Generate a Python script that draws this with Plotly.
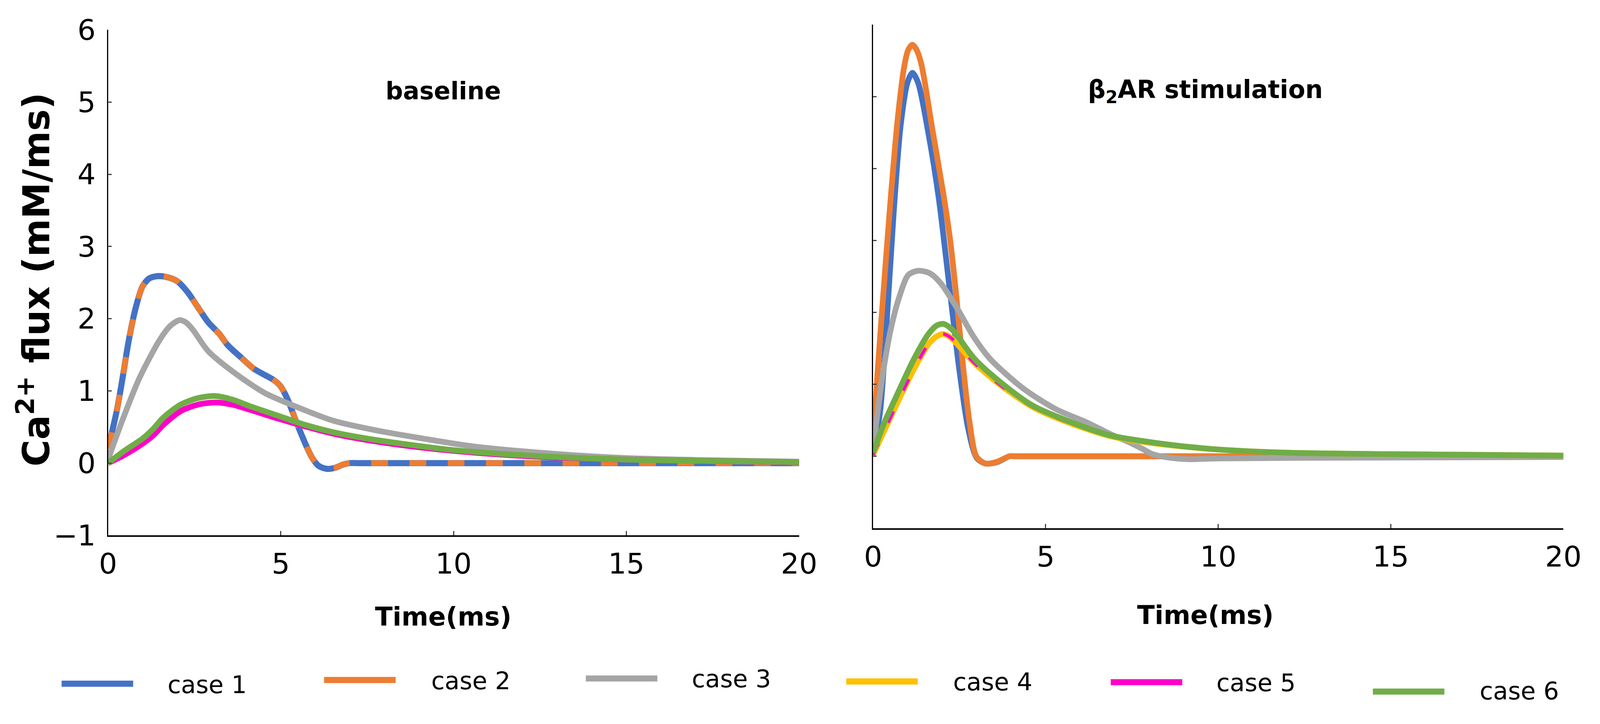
import plotly.graph_objects as go

# reference picture size (screen pixels); the page is sized to the viewport,
# F converts screen pixels to css pixels for fonts and strokes
W, H = 4572, 1853
F = 1 / 1.09

case_names = ['case 1', 'case 2', 'case 3', 'case 4', 'case 5', 'case 6']
case_colors = ['#4472C4', '#ED7D31', '#A5A5A5', '#FFC000', '#FF00CC', '#70AD47']

# ---- baseline panel ----
t_b12 = [0, 0.25, 0.4, 0.6, 0.8, 1.0, 1.2, 1.45, 1.75, 2.0, 2.3, 2.64, 2.9, 3.22, 3.47, 3.88,
         4.21, 4.54, 4.8, 5.0, 5.2, 5.45, 5.7, 5.9, 6.1, 6.35, 6.6, 6.8, 7.0, 7.3, 8, 10, 15, 20]
v_b12 = [0.2, 0.72, 1.12, 1.7, 2.15, 2.45, 2.56, 2.59, 2.57, 2.52, 2.37, 2.13, 1.95, 1.79, 1.63, 1.45,
         1.31, 1.22, 1.15, 1.06, 0.88, 0.57, 0.28, 0.08, -0.04, -0.08, -0.06, -0.02, 0, 0, 0, 0, 0, 0]

t_b3 = [0, 0.42, 0.91, 1.5, 1.8, 2.07, 2.25, 2.45, 2.9, 3.63, 4.54, 5.3, 6.5, 7.8, 9, 10.6, 12.9, 15, 17.5, 20]
v_b3 = [0.05, 0.6, 1.18, 1.71, 1.9, 1.98, 1.95, 1.85, 1.55, 1.26, 0.97, 0.81, 0.59, 0.45, 0.35, 0.23, 0.13, 0.07, 0.04, 0.02]

t_b456 = [0, 0.5, 1.0, 1.3, 1.6, 2.1, 2.6, 3.1, 3.6, 4.1, 4.9, 5.7, 6.5, 7.5, 8.5, 10, 12, 15, 17.5, 20]
v_b45 = [0.0, 0.12, 0.27, 0.38, 0.53, 0.72, 0.81, 0.84, 0.81, 0.74, 0.62, 0.51, 0.41, 0.32, 0.25, 0.17, 0.10, 0.05, 0.03, 0.01]
v_b6 = [0.0, 0.18, 0.34, 0.47, 0.63, 0.81, 0.9, 0.93, 0.88, 0.79, 0.66, 0.53, 0.43, 0.34, 0.27, 0.18, 0.11, 0.05, 0.03, 0.015]

# ---- beta2AR stimulation panel ----
t_s1 = [0, 0.2, 0.4, 0.6, 0.8, 1.0, 1.14, 1.3, 1.6, 1.9, 2.25, 2.5, 2.75, 3.0, 3.25, 3.6, 3.95,
        4.1, 4.5, 6, 10, 15, 20]
v_s1 = [0.1, 0.6, 1.9, 3.4, 4.6, 5.2, 5.33, 5.2, 4.5, 3.6, 2.2, 1.2, 0.4, -0.02, -0.1, -0.08, 0,
        0, 0, 0, 0, 0, 0]

t_s2 = [0, 0.13, 0.32, 0.52, 0.71, 0.9, 1.02, 1.14, 1.26, 1.4, 1.72, 2.04, 2.23, 2.42, 2.61, 2.8,
        2.99, 3.25, 3.57, 3.95, 4.1, 4.5, 6, 10, 15, 20]
v_s2 = [0.15, 1.16, 2.40, 3.64, 4.67, 5.41, 5.65, 5.72, 5.65, 5.45, 4.54, 3.64, 3.02, 2.19, 1.24, 0.46,
        0.0, -0.10, -0.08, 0, 0, 0, 0, 0, 0, 0]

t_s3 = [0, 0.26, 0.52, 0.77, 1.02, 1.31, 1.66, 1.97, 2.42, 2.93, 3.38, 4.33, 5.28, 6.24, 6.87, 7.4,
        7.82, 8.1, 8.6, 9.1, 10, 13, 20]
v_s3 = [0.1, 1.07, 1.78, 2.23, 2.52, 2.58, 2.54, 2.40, 2.07, 1.65, 1.36, 0.95, 0.66, 0.46, 0.31, 0.2,
        0.1, 0.03, -0.02, -0.04, -0.03, -0.02, -0.01]

t_s456 = [0, 0.32, 0.71, 1.15, 1.59, 1.85, 2.04, 2.25, 2.42, 2.93, 3.69, 4.64, 5.6, 6.87, 8.14, 9.85, 12, 15, 20]
v_s45 = [0.02, 0.35, 0.75, 1.18, 1.55, 1.67, 1.70, 1.65, 1.57, 1.30, 0.99, 0.68, 0.48, 0.28, 0.18, 0.10, 0.05, 0.03, 0.01]
v_s6 = [0.05, 0.46, 0.87, 1.32, 1.69, 1.82, 1.84, 1.78, 1.69, 1.36, 1.03, 0.70, 0.50, 0.29, 0.19, 0.10, 0.05, 0.03, 0.01]

x_ticks = [0, 5, 10, 15, 20]
y_ticks = [-1, 0, 1, 2, 3, 4, 5, 6]

FONT = 'DejaVu Sans'


def px_x(p):
    return p / W


def px_y(p):
    return 1 - p / H


def fs(p):
    return p * F


fig = go.Figure()


def add_line(t, v, i, xa, ya, width=16, dash='solid'):
    fig.add_trace(go.Scatter(
        x=t, y=v, mode='lines', name=case_names[i],
        line=dict(color=case_colors[i], width=fs(width), dash=dash, shape='spline', smoothing=0.8),
        xaxis=xa, yaxis=ya, showlegend=False, hoverinfo='skip'
    ))


# baseline
add_line(t_b12, v_b12, 0, 'x', 'y', 17)
add_line(t_b12, v_b12, 1, 'x', 'y', 16, '%dpx,%dpx' % (fs(47), fs(60)))
add_line(t_b3, v_b3, 2, 'x', 'y')
add_line(t_b456, v_b45, 3, 'x', 'y')
add_line(t_b456, v_b45, 4, 'x', 'y')
add_line(t_b456, v_b6, 5, 'x', 'y')

# beta2AR stimulation
add_line(t_s1, v_s1, 0, 'x2', 'y2')
add_line(t_s2, v_s2, 1, 'x2', 'y2')
add_line(t_s3, v_s3, 2, 'x2', 'y2')
add_line(t_s456, v_s45, 3, 'x2', 'y2', 16)
add_line(t_s456, v_s45, 4, 'x2', 'y2', 9, '%dpx,%dpx' % (fs(35), fs(65)))
add_line(t_s456, v_s6, 5, 'x2', 'y2')

xaxis = dict(
    range=[0, 20.0005], tickvals=x_ticks, ticks='inside', ticklen=fs(12), tickwidth=fs(3),
    showline=True, linewidth=fs(4), linecolor='black', showgrid=False, zeroline=False,
    tickfont=dict(family=FONT, size=fs(80), color='black'), ticklabelstandoff=6,
    ticklabeloverflow='allow',
)
yaxis = dict(
    range=[-1, 6.0005], tickvals=y_ticks, ticks='inside', ticklen=fs(10), tickwidth=fs(3),
    showline=True, linewidth=fs(3), linecolor='black', showgrid=False, zeroline=False,
    tickfont=dict(family=FONT, size=fs(80), color='black'), ticklabelstandoff=14,
    ticklabeloverflow='allow',
)

fig.update_layout(
    autosize=True,
    margin=dict(l=0, r=0, t=0, b=0),
    paper_bgcolor='white', plot_bgcolor='white',
    showlegend=False,
    xaxis=dict(xaxis, domain=[px_x(288), px_x(2297)], anchor='y'),
    yaxis=dict(yaxis, domain=[px_y(1392), px_y(36)], anchor='x'),
    xaxis2=dict(xaxis, domain=[px_x(2512), px_x(4519)], anchor='y2'),
    yaxis2=dict(yaxis, domain=[px_y(1373), px_y(22)], anchor='x2', showticklabels=False),
)

annotations = [
    dict(text='<b>baseline</b>', x=px_x(1263), y=px_y(200), size=68),
    dict(text='<b>β<sub>2</sub>AR stimulation</b>', x=px_x(3478), y=px_y(200), size=69),
    dict(text='<b>Time(ms)</b>', x=px_x(1263), y=px_y(1610), size=72),
    dict(text='<b>Time(ms)</b>', x=px_x(3478), y=px_y(1606), size=72),
]
for a in annotations:
    fig.add_annotation(text=a['text'], x=a['x'], y=a['y'], xref='paper', yref='paper',
                       showarrow=False, xanchor='center', yanchor='middle',
                       font=dict(family=FONT, size=fs(a['size']), color='black'))

fig.add_annotation(text='<b>Ca<sup>2+</sup> flux (mM/ms)</b>', textangle=-90,
                   x=px_x(72), y=px_y(706), xref='paper', yref='paper', showarrow=False,
                   xanchor='center', yanchor='middle',
                   font=dict(family=FONT, size=fs(102), color='black'))

# legend drawn by hand: long sample lines like the original
leg_line_x = [153, 916, 1677, 2434, 3203, 3965]
leg_line_y = [1790, 1780, 1776, 1784, 1786, 1811]
leg_text_x = [459, 1225, 1983, 2742, 3508, 4273]
leg_text_y = [1793, 1782, 1777, 1785, 1787, 1810]
for i, name in enumerate(case_names):
    fig.add_shape(type='line', xref='paper', yref='paper',
                  x0=px_x(leg_line_x[i]), x1=px_x(leg_line_x[i] + 208),
                  y0=px_y(leg_line_y[i]), y1=px_y(leg_line_y[i]),
                  line=dict(color=case_colors[i], width=fs(17)))
    fig.add_annotation(text=name, x=px_x(leg_text_x[i]), y=px_y(leg_text_y[i]),
                       xref='paper', yref='paper', showarrow=False,
                       xanchor='left', yanchor='middle',
                       font=dict(family=FONT, size=fs(68), color='black'))

fig.write_html('out.html', default_width='100vw', default_height='100vh',
               config={'displayModeBar': False},
               post_script="document.body.style.margin='0';"
                           "document.body.style.overflow='hidden';")
